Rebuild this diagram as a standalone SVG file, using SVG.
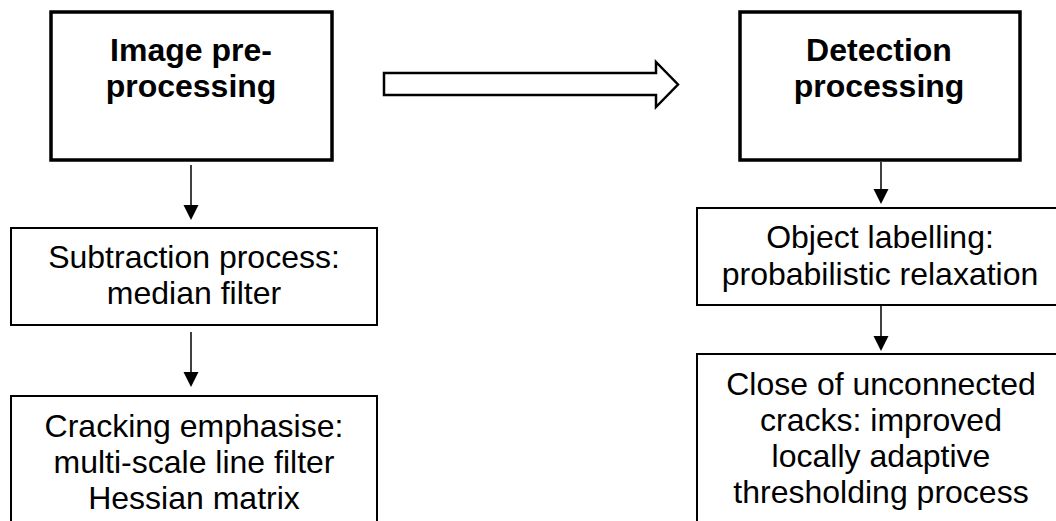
<svg xmlns="http://www.w3.org/2000/svg" width="1056" height="521" viewBox="0 0 1056 521">
  <style>
    .main { fill: #fff; stroke: #000; stroke-width: 3.5; }
    .step { fill: #fff; stroke: #000; stroke-width: 2; }
    .head { font-family: "Liberation Sans", Arial, sans-serif; font-size: 32px; font-weight: bold; text-anchor: middle; fill: #000; }
    .label { font-family: "Liberation Sans", Arial, sans-serif; font-size: 32px; text-anchor: middle; fill: #000; }
    .wire { stroke: #000; stroke-width: 1.5; fill: none; }
    .tip { fill: #000; stroke: none; }
  </style>
  <rect width="1056" height="521" fill="#fff"/>

  <!-- pipeline stages -->
  <g id="image-preprocessing">
    <rect class="main" x="51" y="12" width="281" height="148"/>
    <text class="head" x="191" y="61">Image pre-</text>
    <text class="head" x="191" y="97">processing</text>
  </g>
  <g id="detection-processing">
    <rect class="main" x="740" y="12" width="280" height="148"/>
    <text class="head" x="879" y="61">Detection</text>
    <text class="head" x="879" y="97">processing</text>
  </g>

  <!-- pre-processing steps -->
  <g id="subtraction">
    <rect class="step" x="11" y="228" width="366" height="97"/>
    <text class="label" x="194" y="268">Subtraction process:</text>
    <text class="label" x="194" y="304">median filter</text>
  </g>
  <g id="cracking-emphasise">
    <rect class="step" x="11" y="396" width="366" height="150"/>
    <text class="label" x="194" y="437">Cracking emphasise:</text>
    <text class="label" x="194" y="473">multi-scale line filter</text>
    <text class="label" x="194" y="509">Hessian matrix</text>
  </g>

  <!-- detection steps -->
  <g id="object-labelling">
    <rect class="step" x="697" y="208" width="370" height="97"/>
    <text class="label" x="880" y="248">Object labelling:</text>
    <text class="label" x="880" y="285">probabilistic relaxation</text>
  </g>
  <g id="close-cracks">
    <rect class="step" x="697" y="354" width="370" height="200"/>
    <text class="label" x="881" y="395">Close of unconnected</text>
    <text class="label" x="881" y="431">cracks: improved</text>
    <text class="label" x="881" y="467">locally adaptive</text>
    <text class="label" x="881" y="503">thresholding process</text>
  </g>

  <!-- connectors -->
  <g id="connectors">
    <polygon points="384,73 656,73 656,62 678,84.5 656,107 656,95 384,95" fill="#fff" stroke="#000" stroke-width="2.5" stroke-linejoin="miter"/>

    <line class="wire" x1="191" y1="165" x2="191" y2="206"/>
    <polygon class="tip" points="183.5,205 198.5,205 191,220"/>

    <line class="wire" x1="191" y1="332" x2="191" y2="373"/>
    <polygon class="tip" points="183.5,372 198.5,372 191,387"/>

    <line class="wire" x1="881" y1="162" x2="881" y2="190"/>
    <polygon class="tip" points="873.5,189 888.5,189 881,204"/>

    <line class="wire" x1="881" y1="306" x2="881" y2="337"/>
    <polygon class="tip" points="873.5,336 888.5,336 881,351"/>
  </g>
</svg>
